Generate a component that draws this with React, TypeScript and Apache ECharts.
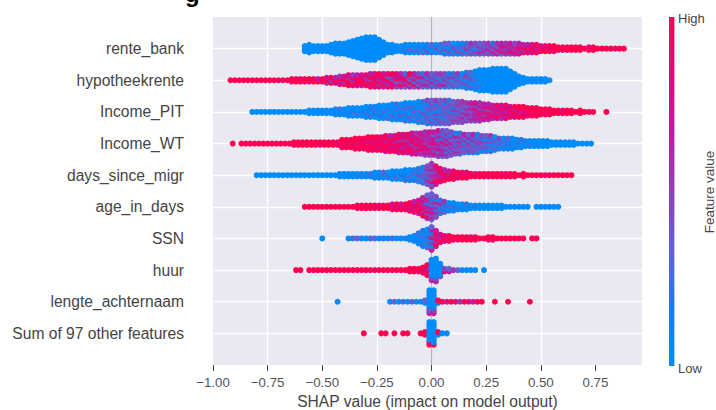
import React, { useEffect, useRef } from "react";
import * as echarts from "echarts";

// Feature names, top row first.
const featureNames = [
  "rente_bank", "hypotheekrente", "Income_PIT", "Income_WT", "days_since_migr",
  "age_in_days", "SSN", "huur", "lengte_achternaam", "Sum of 97 other features",
];

const xTicks = [-1, -0.75, -0.5, -0.25, 0, 0.25, 0.5, 0.75];
const zeroLine = [[0, -1], [0, 10]];
const featureColors = ["#008bfb", "#1f7ae8", "#6560d1", "#8f3fb8", "#b81ea6", "#de0a80", "#ff0051"];

// Each row: SHAP value of the first bin, then one string per bin (bin width 0.02, five bins a line).
// Each character is one dot of the swarm, its feature value from 0 (low) to 9 (high).
const binWidth = 0.02;

const renteBankStart = -0.58;
const renteBank = [
  "000", "0000", "000", "000", "000",
  "000", "0000", "00000", "00000", "00000",
  "000000", "0000000", "00000000", "000000000", "0000000000",
  "0000000000", "0000000000", "00000000", "000000", "0000",
  "0000", "000", "010", "0200", "0130",
  "0300", "0210", "3020", "0401", "2003",
  "1040", "0302", "20403", "04103", "30240",
  "04320", "24030", "30542", "43245", "25034",
  "46253", "35524", "43645", "47352", "64735",
  "38576", "56475", "48657", "68574", "75876",
  "8596", "9786", "6897", "9869", "897",
  "998", "979", "899", "99", "89",
  "99", "99", "99", "99", "9",
  "98", "99", "9", "9", "9",
  "9", "8", "9", "9",
];

const hypotheekrenteStart = -0.92;
const hypotheekrente = [
  "9", "9", "9", "9", "9",
  "9", "9", "9", "9", "9",
  "9", "9", "8", "9", "89",
  "99", "98", "99", "79", "99",
  "96", "89", "597", "959", "796",
  "8795", "9597", "89958", "98595", "79896",
  "69997", "89758", "979596", "798997", "958679",
  "696897", "857938", "978459", "473968", "594786",
  "385972", "648359", "492746", "635384", "364272",
  "273516", "426253", "352514", "274135", "163524",
  "314251", "243152", "132415", "214130", "2140352",
  "1302413", "02103010", "003001000", "000010000", "000000000",
  "0000000000", "0000000000", "0000000000", "0000000000", "00000000",
  "000000", "0000", "000", "00", "00",
  "00", "00", "00", "0",
];

const incomePitStart = -0.82;
const incomePit = [
  "0", "0", "0", "0", "0",
  "0", "0", "0", "0", "0",
  "0", "0", "0", "00", "00",
  "00", "00", "00", "00", "010",
  "002", "000", "0100", "0020", "0300",
  "0010", "00200", "03001", "00130", "002000",
  "010300", "300020", "0040100", "0200302", "1040020",
  "30020310", "02300130", "10304020", "030203010", "203040102",
  "1324123204", "2403214243", "3142403415", "2430412243", "3413243414",
  "4243413342", "453425143", "354425354", "446352445", "53464535",
  "46453746", "47565847", "56687465", "6847576", "5868486",
  "678586", "796768", "578697", "868678", "98797",
  "78969", "98789", "99789", "8899", "8999",
  "9989", "999", "989", "999", "99",
  "99", "98", "99", "99", "9",
  "99", "9", "9", "9", "",
  "", "9",
];

const incomeWtStart = -0.91;
const incomeWt = [
  "9", "", "9", "9", "9",
  "9", "9", "9", "9", "9",
  "9", "9", "9", "9", "99",
  "99", "99", "99", "99", "99",
  "89", "99", "99", "99", "98",
  "9899", "9989", "9989", "99899", "98989",
  "89989", "989879", "899889", "988979", "979898",
  "7989689", "9789896", "8978697", "69798598", "89679587",
  "78968579", "697858967", "768596785", "659687857", "4767856575",
  "5668475657", "5746586736", "46375652647", "36564572524", "45253746253",
  "3525463514", "463524371", "253546352", "34241536", "15345263",
  "24341526", "13425431", "0243514", "3142403", "2031415",
  "130240", "20314", "02130", "10203", "02010",
  "1020", "0102", "001", "020", "000",
  "010", "000", "000", "00", "00",
  "00", "00", "00", "00", "0",
  "0", "0", "0",
];

const daysSinceMigrStart = -0.8;
const daysSinceMigr = [
  "0", "0", "0", "0", "0",
  "0", "0", "0", "0", "0",
  "0", "0", "0", "0", "0",
  "0", "0", "0", "0", "00",
  "00", "00", "00", "10", "01",
  "00", "02", "100", "010", "003",
  "020", "0100", "0300", "0020", "30100",
  "01300", "20031", "031402", "3024301", "34524354",
  "5384563645", "68957468", "897698", "98796", "9896",
  "8998", "979", "998", "998", "99",
  "98", "99", "99", "89", "99",
  "99", "99", "98", "99", "99",
  "9", "99", "9", "9", "9",
  "9", "8", "9", "9", "9",
  "9", "9", "9",
];

const ageInDaysStart = -0.58;
const ageInDays = [
  "9", "9", "9", "9", "9",
  "9", "9", "9", "9", "9",
  "9", "9", "99", "99", "99",
  "99", "89", "98", "99", "99",
  "897", "979", "897", "989", "9789",
  "89786", "698897", "98697586", "6848571583", "36475625143",
  "436253714", "241362", "30215", "1030", "0120",
  "020", "100", "002", "00", "01",
  "00", "00", "00", "00", "00",
  "00", "0", "0", "0", "0",
  "0", "0", "", "0", "0",
  "0", "0", "0", "0",
];

const ssnStart = -0.5;
const ssn = [
  "0", "", "", "", "",
  "", "0", "2", "3", "1",
  "0", "2", "3", "0", "1",
  "0", "2", "0", "0", "1",
  "00", "100", "01002", "0200301", "30302010",
  "7405284163", "7958697", "8967", "798", "989",
  "99", "89", "99", "99", "98",
  "99", "9", "9", "89", "99",
  "9", "9", "9", "9", "9",
  "9", "9", "", "9", "9",
];

const huurStart = -0.62;
const huur = [
  "9", "9", "", "9", "9",
  "9", "9", "9", "9", "9",
  "9", "9", "9", "9", "9",
  "9", "9", "9", "8", "9",
  "9", "9", "9", "9", "9",
  "9", "99", "99", "89", "899",
  "99879", "640000000", "6400000000", "300000", "84",
  "63", "5", "3", "1", "0",
  "0", "0", "", "0",
];

const lengteAchternaamStart = -0.43;
const lengteAchternaam = [
  "0", "", "", "", "",
  "", "", "", "", "",
  "", "", "0", "3", "0",
  "2", "0", "3", "1", "0",
  "03", "6430000000", "7520000000", "29", "9",
  "7", "9", "8", "5", "9",
  "8", "6", "9", "9", "",
  "", "9", "", "", "9",
  "", "", "", "", "9",
];

const sumOtherStart = -0.31;
const sumOther = [
  "9", "", "", "", "9",
  "9", "", "9", "", "9",
  "9", "", "", "9", "99",
  "9900000000", "9000000000", "09", "0", "0",
];

const rowStarts = [
  renteBankStart, hypotheekrenteStart, incomePitStart, incomeWtStart, daysSinceMigrStart,
  ageInDaysStart, ssnStart, huurStart, lengteAchternaamStart, sumOtherStart,
];
const rowBins = [renteBank, hypotheekrente, incomePit, incomeWt, daysSinceMigr, ageInDays, ssn, huur, lengteAchternaam, sumOther];

// Stack the dots of each bin around the row's line, as a beeswarm does.
const stackStep = 0.08;
const swarm: number[][] = [];
rowBins.forEach((bins, r) => {
  const rowY = featureNames.length - 1 - r;
  bins.forEach((stack, b) => {
    const shap = rowStarts[r] + b * binWidth;
    stack.split("").forEach((ch, i) => {
      swarm.push([shap, rowY + (i - (stack.length - 1) / 2) * stackStep, Number(ch)]);
    });
  });
});

const textColor = "#444444";
const font = "Liberation Sans";

export default function App() {
  const ref = useRef<HTMLDivElement>(null);
  useEffect(() => {
    const chart = echarts.init(ref.current!, null, { renderer: "svg" });
    chart.setOption({
      animation: false,
      backgroundColor: "#ffffff",
      grid: { left: 213, right: 74, top: 17, bottom: 45, outerBoundsMode: "none", show: true, backgroundColor: "#e9e9f1", borderWidth: 0 },
      xAxis: {
        type: "value",
        min: -1,
        max: 0.963,
        interval: 0.25,
        name: "SHAP value (impact on model output)",
        nameLocation: "middle",
        nameGap: 27,
        nameTextStyle: { color: textColor, fontSize: 15.6, fontFamily: font },
        axisLine: { show: false, onZero: false },
        axisTick: { show: true, length: 6, customValues: xTicks, lineStyle: { color: "#444444", width: 1 } },
        axisLabel: {
          color: "#555555",
          fontSize: 13.3,
          fontFamily: font,
          margin: 11,
          customValues: xTicks,
          formatter: (v: number) => (v < 0 ? "\u2212" : "") + Math.abs(v).toFixed(2),
        },
        splitLine: { show: true, showMinLine: false, showMaxLine: false, lineStyle: { color: "#ffffff", width: 1.3 } },
      },
      yAxis: {
        type: "value",
        min: -1,
        max: 10,
        interval: 1,
        axisLine: { show: false, onZero: false },
        axisTick: { show: false },
        axisLabel: {
          color: textColor,
          fontSize: 15.6,
          fontFamily: font,
          margin: 29,
          formatter: (v: number) => featureNames[featureNames.length - 1 - v] ?? "",
        },
        splitLine: { show: true, showMinLine: false, showMaxLine: false, lineStyle: { color: "#ffffff", width: 1.3 } },
      },
      visualMap: { show: false, seriesIndex: 1, dimension: 2, min: 0, max: 9, inRange: { color: featureColors } },
      series: [
        { type: "line", data: zeroLine, symbol: "none", silent: true, z: 2, lineStyle: { color: "#b4b4b8", width: 1.2 } },
        { type: "scatter", data: swarm, symbol: "circle", symbolSize: 6, silent: true, z: 3, itemStyle: { opacity: 1 } },
      ],
      graphic: [
        {
          type: "rect",
          shape: { x: 669, y: 17, width: 5.4, height: 349 },
          silent: true,
          style: {
            fill: new echarts.graphic.LinearGradient(
              0, 1, 0, 0,
              featureColors.map((color, i) => ({ offset: i / (featureColors.length - 1), color })),
            ),
          },
        },
        { type: "text", x: 678, y: 18, silent: true, style: { text: "High", fill: textColor, font: `13px "${font}"`, textVerticalAlign: "middle" } },
        { type: "text", x: 678, y: 368, silent: true, style: { text: "Low", fill: textColor, font: `13px "${font}"`, textVerticalAlign: "middle" } },
        {
          type: "text", x: 709, y: 192, rotation: Math.PI / 2, silent: true,
          style: { text: "Feature value", fill: textColor, font: `13.5px "${font}"`, textAlign: "center", textVerticalAlign: "middle" },
        },
        { type: "text", x: 185, y: 5, silent: true, style: { text: "g", fill: "#000000", font: `bold 24px "${font}"`, textVerticalAlign: "bottom" } },
      ],
    });
    return () => chart.dispose();
  }, []);
  return <div ref={ref} style={{ position: "absolute", left: 0, top: 0, width: 716, height: 410 }} />;
}
